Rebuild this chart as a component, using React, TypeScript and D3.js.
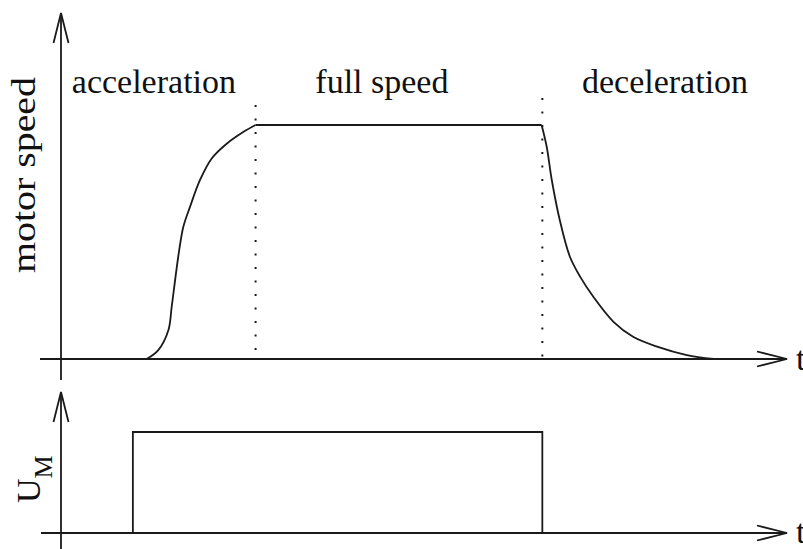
import React from 'react';
import * as d3 from 'd3';

// time axis runs 0..100 (arbitrary units), speed and voltage are normalised 0..1
const accelTime = [11.8, 13.4, 14.8, 15.25, 16.15, 16.85, 17.77, 19.15, 20.76, 22.82, 25.1, 26.8];
const accelSpeed = [0, 0.038, 0.124, 0.224, 0.437, 0.565, 0.65, 0.765, 0.857, 0.92, 0.97, 1.0];
const decelTime = [66.2, 66.9, 67.6, 68.7, 70.1, 71.5, 73.3, 76.1, 78.8, 82.1, 86.2, 89.9];
const decelSpeed = [1.0, 0.907, 0.765, 0.594, 0.437, 0.352, 0.267, 0.159, 0.095, 0.053, 0.017, 0.0];
const pulseTime = [9.9, 9.9, 66.3, 66.3];
const pulseLevel = [0, 1, 1, 0];
const phaseBounds = [26.8, 66.3];
const phaseLabels = ['acceleration', 'full speed', 'deceleration'];
const phaseLabelTime = [12.8, 44.2, 83.2];

const W = 803;
const H = 549;
const FONT = '"Liberation Serif", "Times New Roman", serif';
const INK = '#1a1a1a';
const SW = 1.8;

const x = d3.scaleLinear().domain([0, 100]).range([61, 787]);
const ySpeed = d3.scaleLinear().domain([0, 1]).range([359, 125]);
const yU = d3.scaleLinear().domain([0, 1]).range([533, 432]);

const accelPts = accelTime.map((t, i) => [t, accelSpeed[i]] as [number, number]);
const decelPts = decelTime.map((t, i) => [t, decelSpeed[i]] as [number, number]);

const speedLine = d3.line<[number, number]>()
  .x(d => x(d[0]))
  .y(d => ySpeed(d[1]))
  .curve(d3.curveCatmullRom.alpha(0.5));

const pulseLine = d3.line<number>()
  .x((d, i) => x(pulseTime[i]))
  .y(d => yU(d));

// open arrowhead made of two strokes
const Arrow = ({ tx, ty, dir }: { tx: number; ty: number; dir: 'up' | 'right' }) => {
  const len = 30;
  const half = 7.5;
  const d = dir === 'up'
    ? `M${tx - half},${ty + len}L${tx},${ty}L${tx + half},${ty + len}`
    : `M${tx - len},${ty - half}L${tx},${ty}L${tx - len},${ty + half}`;
  return <path d={d} fill="none" stroke={INK} strokeWidth={SW} />;
};

export default function App() {
  const x0 = x(0);
  const xEnd = x(100);
  return (
    <svg width={W} height={H} style={{ position: 'absolute', left: 0, top: 0, background: '#fff' }}
      fontFamily={FONT}>
      {/* top panel axes */}
      <line x1={x0} x2={x0} y1={13} y2={380} stroke={INK} strokeWidth={SW} />
      <Arrow tx={x0} ty={13} dir="up" />
      <line x1={40} x2={xEnd} y1={ySpeed(0)} y2={ySpeed(0)} stroke={INK} strokeWidth={SW} />
      <Arrow tx={xEnd} ty={ySpeed(0)} dir="right" />

      {/* phase separators */}
      {phaseBounds.map((t, i) => (
        <line key={i} x1={x(t)} x2={x(t)} y1={i === 0 ? 105 : 98} y2={ySpeed(0)}
          stroke={INK} strokeWidth={2} strokeDasharray="2,11.5" />
      ))}

      {/* speed profile */}
      <path d={speedLine(accelPts) || ''} fill="none" stroke={INK} strokeWidth={SW} />
      <line x1={x(accelTime[accelTime.length - 1])} x2={x(decelTime[0])}
        y1={ySpeed(1)} y2={ySpeed(1)} stroke={INK} strokeWidth={SW} />
      <path d={speedLine(decelPts) || ''} fill="none" stroke={INK} strokeWidth={SW} />

      {phaseLabels.map((s, i) => (
        <text key={s} x={x(phaseLabelTime[i])} y={93} fontSize={34} textAnchor="middle" fill="#111">{s}</text>
      ))}
      <text transform="translate(35,175) rotate(-90)" fontSize={33} textAnchor="middle"
        textLength={196} lengthAdjust="spacingAndGlyphs" fill="#111">motor speed</text>
      <text x={796} y={370} fontSize={34} fill="#111">t</text>

      {/* bottom panel axes */}
      <line x1={x0} x2={x0} y1={392} y2={549} stroke={INK} strokeWidth={SW} />
      <Arrow tx={x0} ty={392} dir="up" />
      <line x1={41} x2={xEnd} y1={yU(0)} y2={yU(0)} stroke={INK} strokeWidth={SW} />
      <Arrow tx={xEnd} ty={yU(0)} dir="right" />

      <path d={pulseLine(pulseLevel) || ''} fill="none" stroke={INK} strokeWidth={SW} />

      <text transform="translate(40,503) rotate(-90)" fontSize={34} fill="#111">
        U<tspan dy={12} fontSize={26}>M</tspan>
      </text>
      <text x={796} y={543} fontSize={34} fill="#111">t</text>
    </svg>
  );
}
